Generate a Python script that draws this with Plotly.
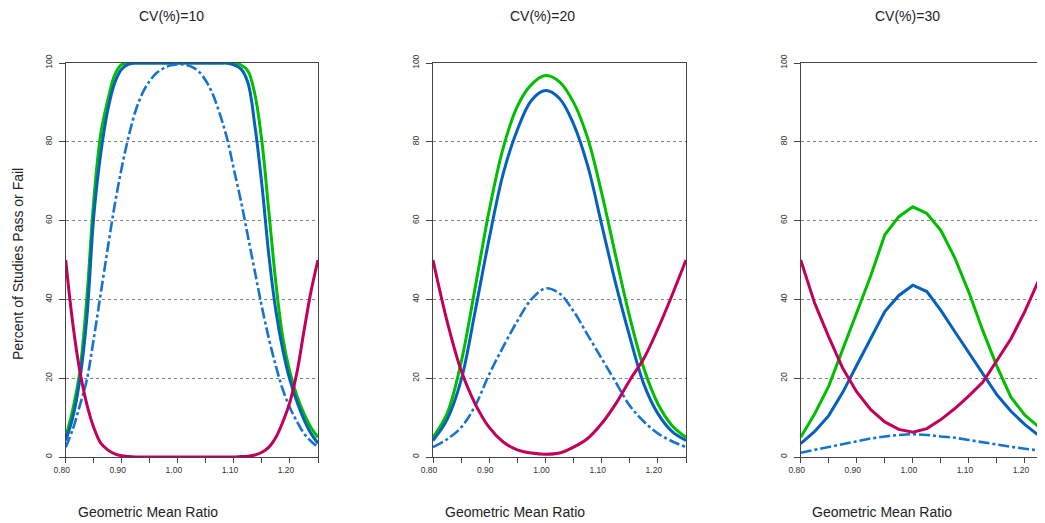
import plotly.graph_objects as go

W, H = 1045, 523
OFF = 8  # the page body adds an 8px offset; positions below are screen pixels

# ---------------- data ----------------
x_p1 = [0.8, 0.8125, 0.825, 0.8375, 0.85, 0.8625, 0.875, 0.8875, 0.9, 0.9125,
        0.925, 0.9375, 0.95, 0.9625, 0.975, 0.9875, 1.0, 1.0125, 1.025, 1.0375,
        1.05, 1.0625, 1.075, 1.0875, 1.1, 1.1125, 1.125, 1.1375, 1.15, 1.1625,
        1.175, 1.1875, 1.2, 1.2125, 1.225, 1.2375, 1.25]

green_p1 = [5, 12, 21.5, 40, 65, 82, 90.5, 97, 99.6, 100,
            100, 100, 100, 100, 100, 100, 100, 100, 100, 100,
            100, 100, 100, 100, 100, 99.5, 98, 92, 80, 62,
            44, 30, 21.5, 15.5, 11, 7.5, 5]
blue_p1 = [4.2, 10, 19.5, 35, 61, 77, 88, 95, 98.5, 99.7,
           100, 100, 100, 100, 100, 100, 100, 100, 100, 100,
           100, 100, 100, 100, 99.5, 98.5, 95, 84, 69, 51,
           37, 27, 19.5, 14, 9.5, 6, 3.5]
dash_p1 = [2.5, 7, 13, 19.5, 30, 41.5, 53, 64, 73.5, 81.5,
           88, 92.5, 95.5, 97.5, 98.7, 99.4, 99.7, 99.6, 99, 97.8,
           95.5, 92, 87, 81, 73, 65, 56, 47, 38, 30,
           23, 17, 12.5, 9, 6, 4, 2.5]
red_p1 = [50, 34, 22, 13.5, 7.5, 3.5, 1.8, 0.8, 0.3, 0.1,
          0, 0, 0, 0, 0, 0, 0, 0, 0, 0,
          0, 0, 0, 0, 0, 0.1, 0.2, 0.5, 1.2, 2.5,
          5, 9, 14, 21.5, 32, 42, 50]

x_p23 = [0.8, 0.825, 0.85, 0.875, 0.9, 0.925, 0.95, 0.975, 1.0, 1.025,
         1.05, 1.075, 1.1, 1.125, 1.15, 1.175, 1.2, 1.225, 1.25]

green_p2 = [5, 11, 24, 43, 62.6, 78.5, 89, 94.5, 96.8, 95.2,
            90, 81, 67, 51, 35.5, 22.5, 13.5, 8, 5]
blue_p2 = [4.2, 9.5, 19.5, 37, 55.5, 72, 83, 90.5, 93, 91,
           84.5, 74, 59, 44, 30.5, 18.5, 11, 6.5, 4.2]
dash_p2 = [2.5, 4.5, 7.5, 13, 21, 28, 34.5, 40, 42.8, 41.5,
           37, 31, 25, 19, 13, 9, 6, 4, 2.5]
red_p2 = [50, 34.5, 22, 13.5, 7.5, 3.8, 1.8, 1, 0.7, 1,
          2.5, 4.7, 8.5, 13.5, 19.5, 25, 32.5, 41, 50]

green_p3 = [5, 11, 18, 27.5, 36.5, 46, 56.4, 61, 63.5, 61.8,
            57.5, 50.5, 41.8, 32, 23, 15.2, 10.6, 7.6, 5.2]
blue_p3 = [3.4, 6.5, 10.5, 16.4, 23.3, 30.3, 36.9, 41, 43.6, 42,
           37.2, 31.8, 26.4, 21.1, 15.8, 11.6, 8.2, 5.4, 3.2]
dash_p3 = [1.1, 1.8, 2.5, 3.2, 4, 4.7, 5.2, 5.6, 5.8, 5.6,
           5.2, 4.9, 4.3, 3.7, 3.1, 2.6, 2.1, 1.6, 1.2]
red_p3 = [50, 39, 30.5, 22.5, 16.5, 12, 8.9, 7, 6.3, 7.2,
          9.5, 12.3, 15.5, 19, 24.5, 30, 37, 45, 52]

panel_titles = ["CV(%)=10", "CV(%)=20", "CV(%)=30"]
x_title = "Geometric Mean Ratio"
y_title = "Percent of Studies Pass or Fail"
x_tickvals = [0.80, 0.85, 0.90, 0.95, 1.00, 1.05, 1.10, 1.15, 1.20, 1.25]
x_ticktext = ["0.80", "", "0.90", "", "1.00", "", "1.10", "", "1.20", ""]
y_tickvals = [0, 20, 40, 60, 80, 100]
y_ticktext = ["0", "20", "40", "60", "80", "100"]

# ---------------- styles ----------------
GREEN = "#00BE00"
BLUE = "#0560BE"
DASHBLUE = "#1673D2"
RED = "#C2005A"
FONT = "Liberation Sans, Arial, sans-serif"

panels = [
    (x_p1, green_p1, blue_p1, dash_p1, red_p1, "spline"),
    (x_p23, green_p2, blue_p2, dash_p2, red_p2, "spline"),
    (x_p23, green_p3, blue_p3, dash_p3, red_p3, "linear"),
]

# screen-pixel geometry of the plot areas (panel 3 runs past the window edge)
px_left = [65.7, 433.0, 800.7]
px_right = [318.0, 686.0, 1053.0]
y_top_px, y_bot_px = 63.0, 457.0


def fx(px):
    return (px - OFF) / W


def fy(py):
    return (H - (py - OFF)) / H


fig = go.Figure()
for i, (xs, g, b, d, r, shape) in enumerate(panels):
    sfx = "" if i == 0 else str(i + 1)
    xa, ya = "x" + sfx, "y" + sfx
    common = dict(x=xs, mode="lines", xaxis=xa, yaxis=ya, showlegend=False,
                  hoverinfo="skip")
    fig.add_trace(go.Scatter(y=g, line=dict(color=GREEN, width=3, shape=shape), **common))
    fig.add_trace(go.Scatter(y=b, line=dict(color=BLUE, width=3, shape=shape), **common))
    fig.add_trace(go.Scatter(y=d, line=dict(color=DASHBLUE, width=2.6, shape=shape,
                                            dash="11px,3px,3px,3px"), **common))
    fig.add_trace(go.Scatter(y=r, line=dict(color=RED, width=3, shape=shape), **common))

    fig.layout["xaxis" + sfx] = dict(
        domain=[fx(px_left[i]), min(1.0, fx(px_right[i]))],
        range=[0.8, 1.25], anchor=ya, automargin=False,
        tickmode="array", tickvals=x_tickvals, ticktext=x_ticktext,
        ticks="outside", ticklen=5, tickwidth=1, tickcolor="#444",
        showline=True, linecolor="#444", linewidth=1, mirror=True,
        showgrid=False, zeroline=False,
        tickfont=dict(family=FONT, size=8.5, color="#333"),
        ticklabelshift=-4,
    )
    fig.layout["yaxis" + sfx] = dict(
        domain=[fy(y_bot_px), fy(y_top_px)],
        range=[0, 100], anchor=xa, automargin=False,
        tickmode="array", tickvals=y_tickvals, ticktext=y_ticktext,
        ticks="outside", ticklen=6, tickwidth=1, tickcolor="#444",
        tickangle=-90,
        showline=True, linecolor="#444", linewidth=1.3, mirror=True,
        showgrid=True, gridcolor="#808080", gridwidth=1, griddash="dot",
        zeroline=False,
        tickfont=dict(family=FONT, size=8.5, color="#333"),
        ticklabelstandoff=3,
    )

annotations = []
title_px = [171, 542, 907]
xtitle_px = [148, 515, 882]
for i in range(3):
    annotations.append(dict(text=panel_titles[i], x=fx(title_px[i]), y=fy(16),
                            xref="paper", yref="paper", showarrow=False,
                            xanchor="center", yanchor="middle",
                            font=dict(family=FONT, size=14, color="#222")))
    annotations.append(dict(text=x_title, x=fx(xtitle_px[i]), y=fy(512),
                            xref="paper", yref="paper", showarrow=False,
                            xanchor="center", yanchor="middle",
                            font=dict(family=FONT, size=14, color="#222")))
annotations.append(dict(text=y_title, x=fx(18), y=fy(264),
                        xref="paper", yref="paper", showarrow=False, textangle=-90,
                        xanchor="center", yanchor="middle",
                        font=dict(family=FONT, size=14, color="#222")))

fig.update_layout(
    width=W, height=H,
    margin=dict(l=0, r=0, t=0, b=0, pad=0, autoexpand=False),
    paper_bgcolor="white", plot_bgcolor="white",
    annotations=annotations,
)

fig.write_html("out.html")
